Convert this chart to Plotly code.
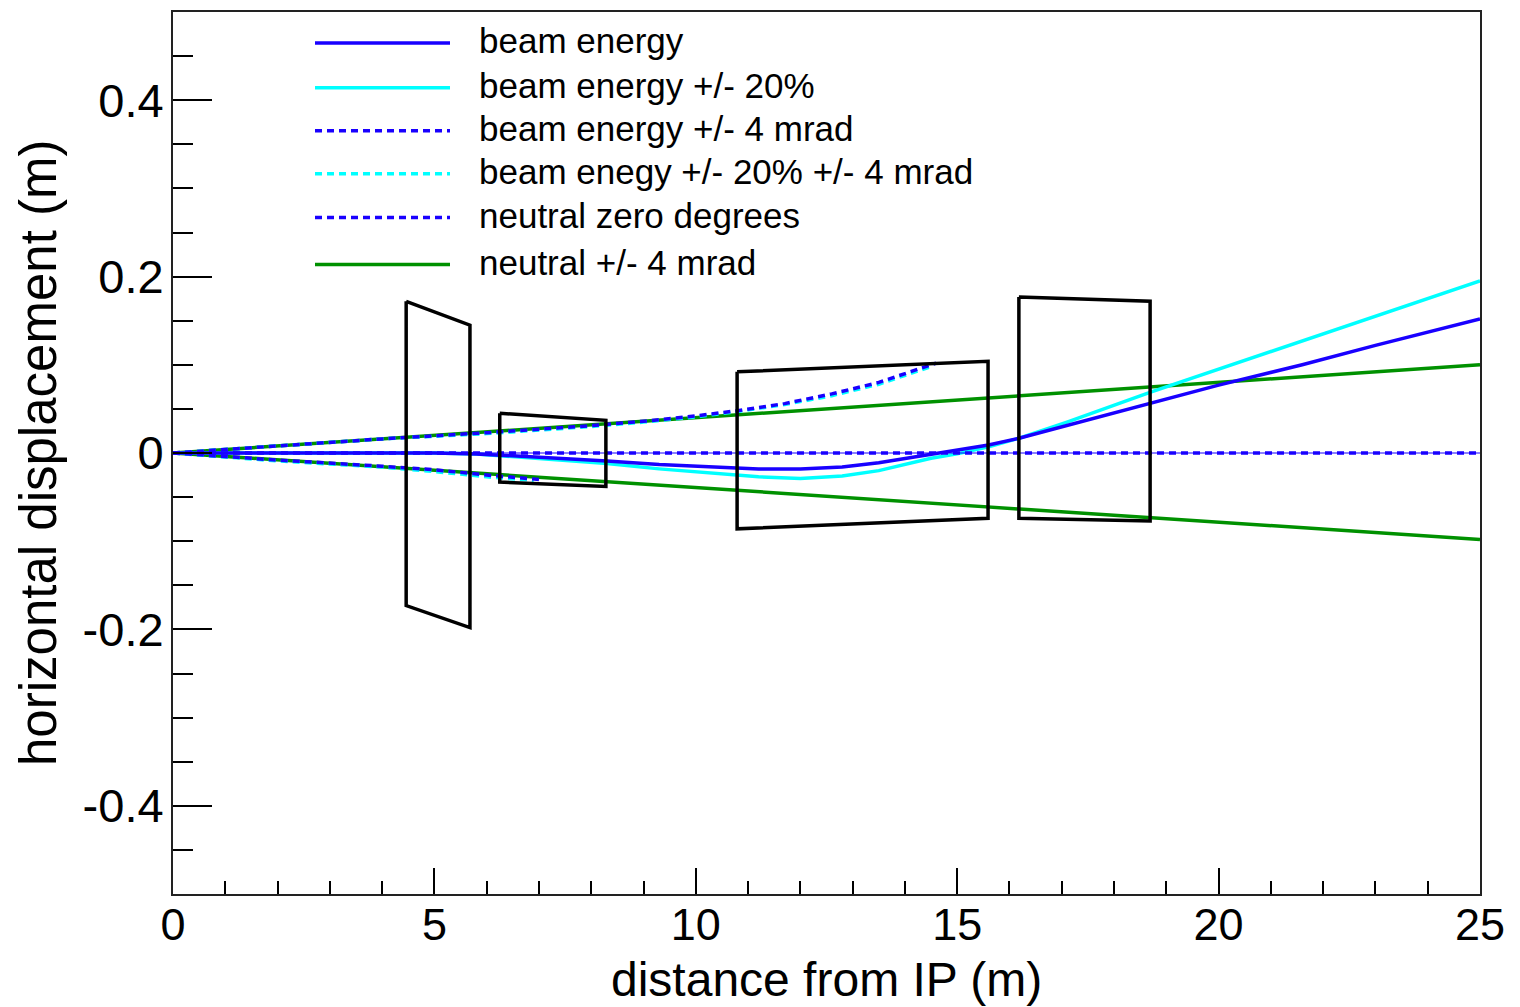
import plotly.graph_objects as go

# ---------------- data ----------------
# beam energy (solid blue)
beam_x = [0, 5.0, 5.8, 6.5, 7.3, 8.3, 9.3, 10.3, 11.2, 12.0, 12.8, 13.5, 14.0, 14.5, 15.0, 15.6, 16.2, 17.1, 18.7, 20.0, 21.6, 23.0, 25.0]
beam_y = [0, 0, -0.001, -0.003, -0.006, -0.009, -0.013, -0.016, -0.018, -0.018, -0.016, -0.011, -0.006, -0.001, 0.004, 0.009, 0.017, 0.031, 0.056, 0.077, 0.100, 0.122, 0.152]

# beam energy +/- 20% (solid cyan)
beam20_x = [0, 5.0, 5.8, 6.5, 7.3, 8.3, 9.3, 10.3, 11.2, 12.0, 12.8, 13.5, 14.0, 14.5, 15.0, 15.6, 16.2, 17.1, 18.7, 20.0, 21.6, 23.0, 25.0]
beam20_y = [0, 0, -0.001, -0.004, -0.008, -0.012, -0.018, -0.023, -0.027, -0.029, -0.026, -0.020, -0.013, -0.006, -0.001, 0.007, 0.017, 0.035, 0.069, 0.095, 0.128, 0.156, 0.195]

# beam energy +/- 4 mrad (dotted blue): upper and lower branches
mrad_up_x = [0, 2, 4, 6, 7, 8, 9, 10, 10.8, 11.7, 12.6, 13.5, 14.6]
mrad_up_y = [0, 0.008, 0.016, 0.023, 0.027, 0.031, 0.036, 0.042, 0.048, 0.056, 0.067, 0.080, 0.102]
mrad_lo_x = [0, 2, 4, 5, 6, 7.0]
mrad_lo_y = [0, -0.008, -0.015, -0.019, -0.025, -0.030]

# beam energy +/- 20% +/- 4 mrad (dotted cyan)
mrad20_up_x = [0, 2, 4, 6, 7, 8, 9, 10, 10.8, 11.7, 12.6, 13.5, 14.5]
mrad20_up_y = [0, 0.008, 0.016, 0.022, 0.026, 0.030, 0.035, 0.041, 0.047, 0.055, 0.065, 0.078, 0.098]
mrad20_lo_x = [0, 2, 4, 5, 6, 6.9]
mrad20_lo_y = [0, -0.009, -0.016, -0.021, -0.027, -0.031]

# neutral zero degrees (dotted blue)
neutral0_x = [0, 25]
neutral0_y = [0, 0]

# neutral +/- 4 mrad (green)
neutral_x = [0, 25]
neutral_up_y = [0, 0.100]
neutral_lo_y = [0, -0.098]

# apertures (black outlines)
box1_x = [4.46, 5.68, 5.68, 4.46, 4.46]
box1_y = [0.172, 0.145, -0.198, -0.173, 0.172]
box2_x = [6.25, 8.28, 8.28, 6.25, 6.25]
box2_y = [0.045, 0.037, -0.038, -0.033, 0.045]
box3_x = [10.79, 15.59, 15.59, 10.79, 10.79]
box3_y = [0.092, 0.104, -0.074, -0.086, 0.092]
box4_x = [16.18, 18.69, 18.69, 16.18, 16.18]
box4_y = [0.177, 0.172, -0.077, -0.074, 0.177]

# axis ticks
x_tickvals = [0, 5, 10, 15, 20, 25]
x_ticktext = ["0", "5", "10", "15", "20", "25"]
y_tickvals = [-0.4, -0.2, 0, 0.2, 0.4]
y_ticktext = ["-0.4", "-0.2", "0", "0.2", "0.4"]

legend_labels = ["beam energy", "beam energy +/- 20%", "beam energy +/- 4 mrad",
                 "beam enegy +/- 20% +/- 4 mrad", "neutral zero degrees", "neutral +/- 4 mrad"]

# ---------------- styling ----------------
BLUE = "rgb(25,0,255)"
CYAN = "rgb(0,255,255)"
GREEN = "rgb(0,145,0)"
DOT = "7px,5px"
FONT = "Liberation Sans, Arial, Helvetica, sans-serif"
LW = 3.5

def join(xa, ya, xb, yb):
    return list(xa) + [None] + list(xb), list(ya) + [None] + list(yb)

fig = go.Figure()

gx, gy = join(neutral_x, neutral_up_y, neutral_x, neutral_lo_y)
fig.add_trace(go.Scatter(x=gx, y=gy, mode="lines", name=legend_labels[5],
                         line=dict(color=GREEN, width=LW)))
fig.add_trace(go.Scatter(x=beam20_x, y=beam20_y, mode="lines", name=legend_labels[1],
                         line=dict(color=CYAN, width=LW)))
fig.add_trace(go.Scatter(x=beam_x, y=beam_y, mode="lines", name=legend_labels[0],
                         line=dict(color=BLUE, width=LW)))
cx, cy = join(mrad20_up_x, mrad20_up_y, mrad20_lo_x, mrad20_lo_y)
fig.add_trace(go.Scatter(x=cx, y=cy, mode="lines", name=legend_labels[3],
                         line=dict(color=CYAN, width=LW, dash=DOT)))
bx, by = join(mrad_up_x, mrad_up_y, mrad_lo_x, mrad_lo_y)
fig.add_trace(go.Scatter(x=bx, y=by, mode="lines", name=legend_labels[2],
                         line=dict(color=BLUE, width=LW, dash=DOT)))
fig.add_trace(go.Scatter(x=neutral0_x, y=neutral0_y, mode="lines", showlegend=False,
                         line=dict(color=BLUE, width=1)))
fig.add_trace(go.Scatter(x=neutral0_x, y=neutral0_y, mode="lines", name=legend_labels[4],
                         line=dict(color=BLUE, width=LW, dash=DOT)))

for bxs, bys in [(box1_x, box1_y), (box2_x, box2_y), (box3_x, box3_y), (box4_x, box4_y)]:
    fig.add_trace(go.Scatter(x=bxs, y=bys, mode="lines", showlegend=False,
                             line=dict(color="black", width=3.5)))

# ---------------- custom legend (long line samples as in the original) ----------------
PL, PR, PT, PB = 173, 1480, 10, 894
def px2paper_x(p):
    return (p - PL) / (PR - PL)
def px2paper_y(p):
    return (PB - p) / (PB - PT)

legend_rows = [41, 86, 129, 172, 216, 263]
legend_styles = [(BLUE, "solid"), (CYAN, "solid"), (BLUE, DOT), (CYAN, DOT), (BLUE, DOT), (GREEN, "solid")]
shapes = []
annotations = []
for lab, row, (col, dash) in zip(legend_labels, legend_rows, legend_styles):
    yp = px2paper_y(row)
    shapes.append(dict(type="line", xref="paper", yref="paper",
                       x0=px2paper_x(315), x1=px2paper_x(450), y0=yp, y1=yp,
                       line=dict(color=col, width=3.5, dash=dash)))
    annotations.append(dict(text=lab, xref="paper", yref="paper", x=px2paper_x(477),
                            y=px2paper_y(row - 2),
                            xanchor="left", yanchor="middle", showarrow=False,
                            font=dict(family=FONT, size=35, color="black")))

annotations.append(dict(text="distance from IP (m)", xref="paper", yref="paper",
                        x=0.5, y=px2paper_y(980), xanchor="center", yanchor="middle",
                        showarrow=False, font=dict(family=FONT, size=48, color="black")))
annotations.append(dict(text="horizontal displacement (m)", xref="paper", yref="paper",
                        x=px2paper_x(38), y=0.5, xanchor="center", yanchor="middle",
                        textangle=-90, showarrow=False,
                        font=dict(family=FONT, size=51, color="black")))

fig.update_layout(
    width=1520, height=1007, autosize=False,
    margin=dict(l=PL, r=1520 - PR, t=PT, b=1007 - PB, pad=0),
    paper_bgcolor="white", plot_bgcolor="white",
    showlegend=False,
    font=dict(family=FONT, color="black"),
    shapes=shapes, annotations=annotations,
)
fig.update_xaxes(range=[0, 25], showgrid=False, zeroline=False,
                 showline=True, linecolor="#222", linewidth=2, mirror=True,
                 tickmode="array", tickvals=x_tickvals, ticktext=x_ticktext,
                 ticks="inside", ticklen=26, tickwidth=2, tickcolor="black",
                 tickfont=dict(family=FONT, size=45, color="black"),
                 ticklabelstandoff=-10,
                 minor=dict(dtick=1, tick0=0, ticks="inside", ticklen=13, tickwidth=2,
                            tickcolor="black", showgrid=False))
fig.update_yaxes(range=[-0.5, 0.5], showgrid=False, zeroline=False,
                 showline=True, linecolor="#222", linewidth=2, mirror=True,
                 tickmode="array", tickvals=y_tickvals, ticktext=y_ticktext,
                 ticks="inside", ticklen=39, tickwidth=2, tickcolor="black",
                 tickfont=dict(family=FONT, size=47, color="black"),
                 ticklabelstandoff=-2,
                 minor=dict(dtick=0.05, tick0=0, ticks="inside", ticklen=20, tickwidth=2,
                            tickcolor="black", showgrid=False))

fig.write_html("out.html")
